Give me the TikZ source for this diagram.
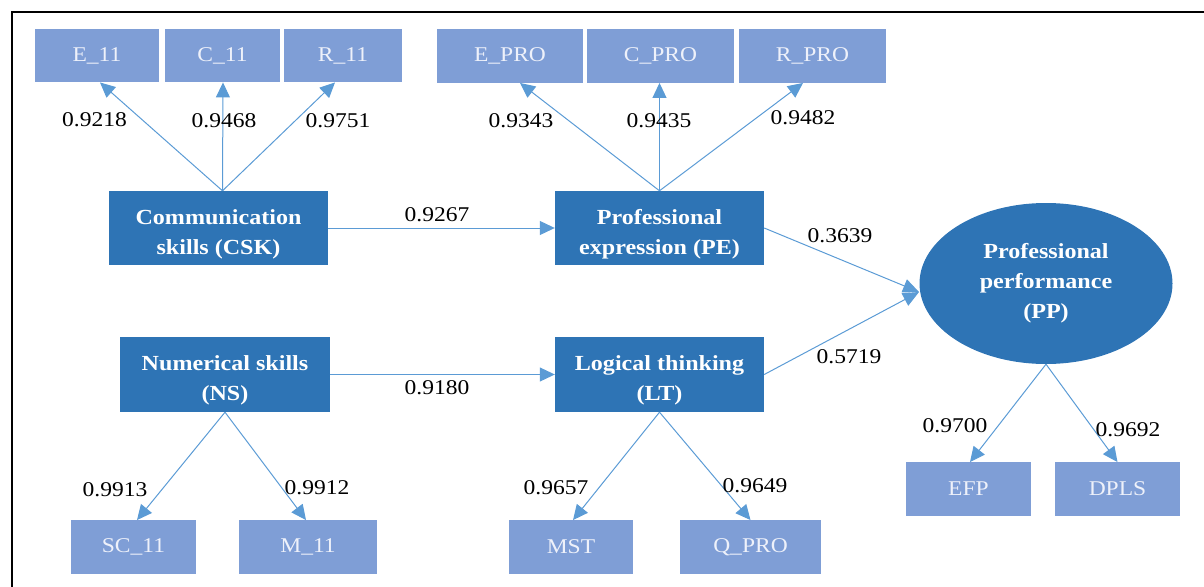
\documentclass[tikz,border=0pt]{standalone}
\usepackage{fontspec}
\setmainfont{Liberation Serif}[FakeStretch=1.12]
\usetikzlibrary{shapes.geometric,arrows.meta}
\definecolor{darkbox}{HTML}{2E74B5}
\definecolor{lightbox}{HTML}{7F9ED6}
\definecolor{arrowc}{HTML}{5B9BD5}
\definecolor{lighttext}{HTML}{EEF1FA}
\newcommand{\toppad}{\rule{0pt}{27pt}}
\tikzset{
  latent/.style={fill=darkbox, draw=none, text=white, align=center, inner sep=0pt,
    font=\fontsize{21.5}{30}\selectfont\bfseries},
  indic/.style={fill=lightbox, draw=none, text=lighttext, inner sep=0pt,
    font=\fontsize{21}{22}\selectfont, minimum height=53.5pt},
  lbl/.style={inner sep=0pt, font=\fontsize{21}{22}\selectfont, text=black},
  arr/.style={draw=arrowc, line width=1pt, -{Triangle[length=15pt,width=14pt]}, color=arrowc},
  sarr/.style={draw=arrowc, line width=1pt, -{Triangle[length=16pt,width=14pt]}, color=arrowc}
}
\begin{document}
\begin{tikzpicture}[x=1pt,y=-1pt]
\useasboundingbox (0,0) rectangle (1204,586);
\draw[line width=1.5pt] (12,590) -- (12,12) -- (1208,12);
% indicator boxes
\node[indic, minimum width=124pt] (e11) at (97,55.5) {E\_11};
\node[indic, minimum width=115pt] (c11) at (222.5,55.5) {C\_11};
\node[indic, minimum width=118pt] (r11) at (343,55.5) {R\_11};
\node[indic, minimum width=146pt] (epro) at (510,56) {E\_PRO};
\node[indic, minimum width=147pt] (cpro) at (660.5,56) {C\_PRO};
\node[indic, minimum width=147pt] (rpro) at (812.5,56) {R\_PRO};
\node[indic, minimum width=125pt] (sc11) at (133.5,547) {SC\_11};
\node[indic, minimum width=138pt] (m11) at (308,547) {M\_11};
\node[indic, minimum width=124pt] (mst) at (571,547) {MST};
\node[indic, minimum width=141pt] (qpro) at (750.5,547) {Q\_PRO};
\node[indic, minimum width=125pt] (efp) at (968.5,489) {EFP};
\node[indic, minimum width=125pt] (dpls) at (1117.5,489) {DPLS};
% latent boxes
\node[latent, minimum width=219pt, minimum height=74pt] (csk) at (218.5,228) {\toppad Communication\\skills (CSK)};
\node[latent, minimum width=209pt, minimum height=74pt] (pe) at (659.5,228) {\toppad Professional\\expression (PE)};
\node[latent, minimum width=210pt, minimum height=75pt] (ns) at (225,374.5) {\rule{0pt}{26pt}Numerical skills\\(NS)};
\node[latent, minimum width=209pt, minimum height=75pt] (lt) at (659.5,374.5) {\rule{0pt}{26pt}Logical thinking\\(LT)};
\node[latent, ellipse, minimum width=253pt, minimum height=161pt] (pp) at (1046,283.5) {Professional\\performance\\(PP)};
\coordinate (ppin) at (919,292);
\coordinate (cskt) at ([xshift=4pt]csk.north);
% connectors
\draw[arr] (cskt) -- ([xshift=3pt]e11.south);
\draw[arr] (cskt) -- ([xshift=0.5pt]c11.south);
\draw[arr] (cskt) -- ([xshift=-8pt]r11.south);
\draw[arr] (pe.north) -- ([xshift=10pt]epro.south);
\draw[arr] (pe.north) -- ([xshift=-1pt]cpro.south);
\draw[arr] (pe.north) -- ([xshift=-9.5pt]rpro.south);
\draw[arr] (csk.east) -- (pe.west);
\draw[arr] (ns.east) -- (lt.west);
\draw[sarr] (pe.east) -- (ppin);
\draw[sarr] (lt.east) -- (ppin);
\draw[arr] (ns.south) -- ([xshift=3.5pt]sc11.north);
\draw[arr] (ns.south) -- ([xshift=-2pt]m11.north);
\draw[arr] (lt.south) -- ([xshift=2pt]mst.north);
\draw[arr] (lt.south) -- (qpro.north);
\draw[arr] (pp.south) -- ([xshift=1.5pt]efp.north);
\draw[arr] (pp.south) -- (dpls.north);
% labels
\node[lbl] (l1) at (94.5,120) {0.9218};
\node[lbl] (l2) at (224,121) {0.9468};
\node[lbl] (l3) at (338,121) {0.9751};
\node[lbl] (l4) at (521,121) {0.9343};
\node[lbl] (l5) at (659,121) {0.9435};
\node[lbl] (l6) at (803,118) {0.9482};
\node[lbl] (l7) at (437,214.5) {0.9267};
\node[lbl] (l8) at (437,387.5) {0.9180};
\node[lbl] (l9) at (840,235.5) {0.3639};
\node[lbl] (l10) at (849,357) {0.5719};
\node[lbl] (l11) at (115,489.5) {0.9913};
\node[lbl] (l12) at (317,488) {0.9912};
\node[lbl] (l13) at (556,488) {0.9657};
\node[lbl] (l14) at (755,486) {0.9649};
\node[lbl] (l15) at (955,425.5) {0.9700};
\node[lbl] (l16) at (1128,429.5) {0.9692};
\end{tikzpicture}
\end{document}
